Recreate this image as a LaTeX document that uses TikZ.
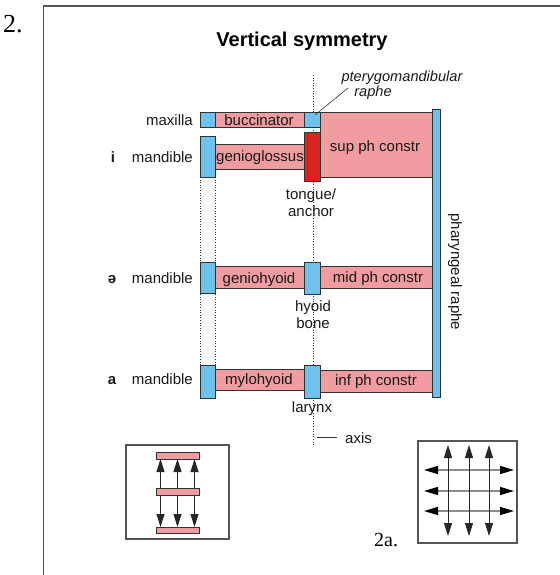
\documentclass[tikz,border=0pt]{standalone}
\usepackage{fontspec}
\setmainfont{Liberation Sans}
\newfontfamily\numfont{Liberation Serif}
\usetikzlibrary{arrows.meta,calc}
\pgfdeclarelayer{background}
\pgfsetlayers{background,main}

\definecolor{boneblue}{RGB}{110,195,238}
\definecolor{musclepink}{RGB}{240,156,160}
\definecolor{anchorred}{RGB}{214,36,30}
\definecolor{edgegray}{RGB}{50,50,50}
\definecolor{framegray}{RGB}{85,85,85}

\tikzset{
  part/.style={draw=edgegray, line width=0.8pt, rectangle, inner sep=0pt, outer sep=0pt},
  bone/.style={part, fill=boneblue},
  muscle/.style={part, fill=musclepink},
  anchorpart/.style={part, fill=anchorred},
  lbl/.style={font=\fontsize{15}{17}\selectfont, text=black!90, inner sep=0pt, anchor=base},
  lbleast/.style={lbl, anchor=base east},
  vowel/.style={lbl, font=\fontsize{15}{17}\selectfont\bfseries},
  italbl/.style={lbl, font=\fontsize{14.6}{16}\selectfont\itshape},
  guide/.style={edgegray, line width=0.6pt, dash pattern=on 1pt off 1.6pt},
  insetframe/.style={draw=framegray, line width=1.3pt, rectangle, inner sep=0pt},
  bar/.style={part, fill=musclepink},
  vec/.style={line width=0.9pt, black!85, {Triangle[length=13pt,width=8pt]}-{Triangle[length=13pt,width=8pt]}},
  vecone/.style={line width=0.9pt, black!85, -{Triangle[length=13pt,width=8pt]}},
  hvec/.style={line width=1.3pt, black!45, {Triangle[length=14pt,width=8pt,color=black]}-{Triangle[length=14pt,width=8pt,color=black]}}
}

% rectangle node from its corner coordinates: style, name, x1, y1, x2, y2
\newcommand\partbox[6]{%
  \node[#1, minimum width={(#5-#3)*1pt}, minimum height={(#6-#4)*1pt}]
    (#2) at ({(#3+#5)/2},{(#4+#6)/2}) {};}

\begin{document}
\begin{tikzpicture}[x=1pt,y=-1pt]
\useasboundingbox (0,0) rectangle (559,575);

% outer frame (open to the right and below)
\draw[framegray, line width=1.5pt] (43.5,585) -- (43.5,6) -- (570,6);
\node[font=\numfont\fontsize{26}{28}\selectfont, anchor=base west, inner sep=0pt] (num) at (3,33) {2.};

% title
\node[font=\fontsize{20}{22}\selectfont\bfseries, anchor=base, inner sep=0pt] (title) at (302,47) {Vertical symmetry};

% maxilla row
\partbox{bone}{maxB}{200}{112}{215}{127}
\partbox{muscle}{bucc}{215}{112}{304}{127}
\partbox{bone}{pter}{304}{112}{320}{127}
\partbox{muscle}{supc}{320}{112}{432}{177}

% i row
\partbox{bone}{mandI}{200}{136}{215}{177}
\partbox{muscle}{genio}{215}{144}{304}{169}
\partbox{anchorpart}{tongue}{304}{132}{320}{181}

% schwa row
\partbox{bone}{mandE}{200}{262}{215}{293}
\partbox{muscle}{genh}{215}{266}{304}{288}
\partbox{bone}{hyoid}{304}{262}{320}{294}
\partbox{muscle}{midc}{320}{266}{432}{288}

% a row
\partbox{bone}{mandA}{200}{365}{215}{398}
\partbox{muscle}{mylo}{215}{369}{304}{390}
\partbox{bone}{larynx}{304}{365}{320}{398}
\partbox{muscle}{infc}{320}{370}{432}{392}

% pharyngeal raphe
\partbox{bone}{phr}{432}{109}{440}{397}

% guide lines behind the parts
\coordinate (axisTop) at (313,75);
\coordinate (axisBot) at (313,446);
\begin{pgfonlayer}{background}
  \draw[guide] (axisTop) -- (axisBot);
  \draw[guide] (mandI.south west) -- (mandA.north west);
  \draw[guide] (mandI.south east) -- (mandA.north east);
\end{pgfonlayer}

% muscle names
\node[lbl] (tBucc) at (259,125) {buccinator};
\node[lbl] (tGenio) at (260,161) {genioglossus};
\node[lbl] (tSup) at (375,151) {sup ph constr};
\node[lbl] (tGenh) at (259,283) {geniohyoid};
\node[lbl] (tMid) at (378,282) {mid ph constr};
\node[lbl] (tMylo) at (259,384) {mylohyoid};
\node[lbl] (tInf) at (376,385) {inf ph constr};

% left labels
\node[lbleast] (tMax) at (193,125) {maxilla};
\node[lbleast] (tMandI) at (193,162) {mandible};
\node[lbleast] (tMandE) at (193,283) {mandible};
\node[lbleast] (tMandA) at (193,384) {mandible};
\node[vowel] (vI) at (113,162) {i};
\node[vowel] (vE) at (112,283) {ə};
\node[vowel] (vA) at (112,384) {a};

% labels along the axis
\node[lbl] (tTongue) at (311,199) {tongue/};
\node[lbl] (tAnchor) at (311,216) {anchor};
\node[lbl] (tHyoid) at (313,311) {hyoid};
\node[lbl] (tBone) at (313,328) {bone};
\node[lbl] (tLarynx) at (312,412) {larynx};

% pterygomandibular raphe label and leader
\node[italbl] (tPtA) at (402,81.5) {pterygomandibular};
\node[italbl] (tPtB) at (373,97) {raphe};
\coordinate (lead) at (348,88);
\draw[line width=0.6pt, edgegray] (lead) -- ($(pter.center)+(3,-4.5)$);

% axis label
\node[lbl, anchor=base west] (tAxis) at (345,443) {axis};
\draw[line width=0.8pt, edgegray] ([xshift=-8pt]tAxis.west) -- ([xshift=-28pt]tAxis.west);

% pharyngeal raphe label
\node[font=\fontsize{15}{17}\selectfont, text=black!90, rotate=-90, inner sep=0pt] (tPhr) at (455,272) {pharyngeal raphe};

% inset: vertical layers pulled apart
\partbox{insetframe}{insetL}{126}{445}{229}{539}
\partbox{bar}{barTop}{156}{452}{199}{459}
\partbox{bar}{barMid}{156}{488}{199}{495}
\partbox{bar}{barBot}{156}{527}{199}{533}
\foreach \dx in {-17,0,17}{
  \draw[vecone] ([xshift=\dx pt]barMid.north) -- ([xshift=\dx pt]barTop.south);
  \draw[vecone] ([xshift=\dx pt]barMid.south) -- ([xshift=\dx pt]barBot.north);
}

% inset 2a: stretching in both directions
\partbox{insetframe}{insetR}{418}{441}{517}{543}
\node[font=\numfont\fontsize{20}{22}\selectfont, anchor=base west, inner sep=0pt] (num2a) at (374,546) {2a.};
\foreach \i/\y in {1/470,2/491,3/511}{
  \coordinate (hl\i) at (424,\y);
  \coordinate (hr\i) at (514,\y);
  \draw[hvec] (hl\i) -- (hr\i);
}
\foreach \i/\x in {1/448,2/469,3/489}{
  \coordinate (vt\i) at (\x,445);
  \coordinate (vb\i) at (\x,536);
  \draw[vec] (vb\i) -- (vt\i);
}
\end{tikzpicture}
\end{document}
